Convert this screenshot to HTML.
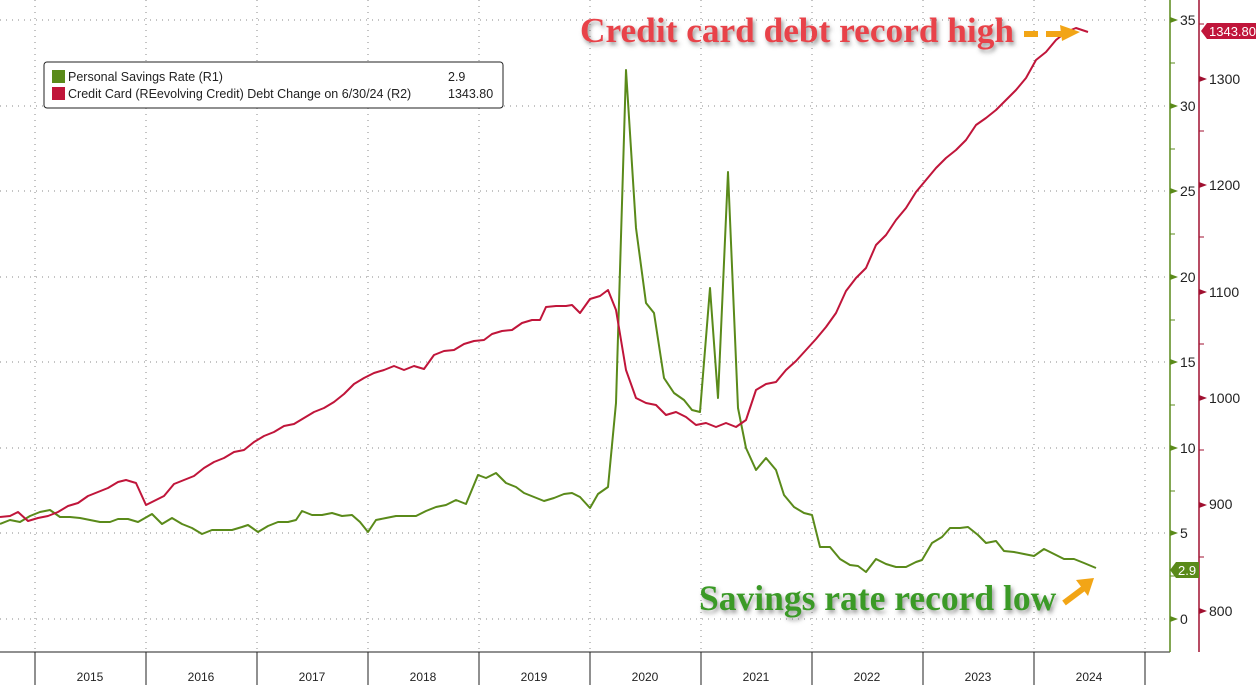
<!DOCTYPE html>
<html><head><meta charset="utf-8"><style>
html,body{margin:0;padding:0;background:#fff;}
svg{display:block;font-family:"Liberation Sans",sans-serif;}
</style></head><body>
<svg width="1256" height="685" viewBox="0 0 1256 685" xmlns="http://www.w3.org/2000/svg">
<defs>
<filter id="sh" x="-5%" y="-20%" width="110%" height="160%"><feDropShadow dx="2" dy="3" stdDeviation="2" flood-color="#555" flood-opacity="0.6"/></filter>
</defs>
<rect width="1256" height="685" fill="#fff"/>
<g stroke="#888" stroke-width="1" stroke-dasharray="1,5">
<line x1="0" x2="1170" y1="20" y2="20"/><line x1="0" x2="1170" y1="106" y2="106"/>
<line x1="0" x2="1170" y1="191" y2="191"/><line x1="0" x2="1170" y1="277" y2="277"/>
<line x1="0" x2="1170" y1="362" y2="362"/><line x1="0" x2="1170" y1="448" y2="448"/>
<line x1="0" x2="1170" y1="533" y2="533"/><line x1="0" x2="1170" y1="619" y2="619"/>
<line x1="35" x2="35" y1="0" y2="650"/><line x1="146" x2="146" y1="0" y2="650"/>
<line x1="257" x2="257" y1="0" y2="650"/><line x1="368" x2="368" y1="0" y2="650"/>
<line x1="479" x2="479" y1="0" y2="650"/><line x1="590" x2="590" y1="0" y2="650"/>
<line x1="701" x2="701" y1="0" y2="650"/><line x1="812" x2="812" y1="0" y2="650"/>
<line x1="923" x2="923" y1="0" y2="650"/><line x1="1034" x2="1034" y1="0" y2="650"/>
<line x1="1145" x2="1145" y1="0" y2="650"/>
</g>
<line x1="0" x2="1170" y1="652" y2="652" stroke="#222"/>
<g stroke="#222"><line x1="35" x2="35" y1="652" y2="685"/><line x1="146" x2="146" y1="652" y2="685"/><line x1="257" x2="257" y1="652" y2="685"/><line x1="368" x2="368" y1="652" y2="685"/><line x1="479" x2="479" y1="652" y2="685"/><line x1="590" x2="590" y1="652" y2="685"/><line x1="701" x2="701" y1="652" y2="685"/><line x1="812" x2="812" y1="652" y2="685"/><line x1="923" x2="923" y1="652" y2="685"/><line x1="1034" x2="1034" y1="652" y2="685"/><line x1="1145" x2="1145" y1="652" y2="685"/></g>
<g font-size="12" fill="#222" text-anchor="middle">
<text x="90" y="681">2015</text><text x="201" y="681">2016</text><text x="312" y="681">2017</text><text x="423" y="681">2018</text><text x="534" y="681">2019</text><text x="645" y="681">2020</text><text x="756" y="681">2021</text><text x="867" y="681">2022</text><text x="978" y="681">2023</text><text x="1089" y="681">2024</text>
</g>
<line x1="1170" x2="1170" y1="0" y2="652" stroke="#5a8a1a" stroke-width="1.5"/>
<line x1="1199" x2="1199" y1="0" y2="652" stroke="#a01030" stroke-width="1.5"/>
<g fill="#5a8a1a">
<path d="M1170,17 l8,3 l-8,3z"/><path d="M1170,103 l8,3 l-8,3z"/><path d="M1170,188 l8,3 l-8,3z"/><path d="M1170,274 l8,3 l-8,3z"/><path d="M1170,359 l8,3 l-8,3z"/><path d="M1170,445 l8,3 l-8,3z"/><path d="M1170,530 l8,3 l-8,3z"/><path d="M1170,616 l8,3 l-8,3z"/>
</g>
<g stroke="#5a8a1a"><line x1="1170" x2="1175" y1="63" y2="63"/><line x1="1170" x2="1175" y1="149" y2="149"/><line x1="1170" x2="1175" y1="234" y2="234"/><line x1="1170" x2="1175" y1="320" y2="320"/><line x1="1170" x2="1175" y1="405" y2="405"/><line x1="1170" x2="1175" y1="491" y2="491"/><line x1="1170" x2="1175" y1="576" y2="576"/></g>
<g font-size="14" fill="#222">
<text x="1180" y="25">35</text><text x="1180" y="111">30</text><text x="1180" y="196">25</text><text x="1180" y="282">20</text><text x="1180" y="367">15</text><text x="1180" y="453">10</text><text x="1180" y="538">5</text><text x="1180" y="624">0</text>
</g>
<g stroke="#a01030"><line x1="1199" x2="1204" y1="24" y2="24"/><line x1="1199" x2="1204" y1="131" y2="131"/><line x1="1199" x2="1204" y1="237" y2="237"/><line x1="1199" x2="1204" y1="344" y2="344"/><line x1="1199" x2="1204" y1="450" y2="450"/><line x1="1199" x2="1204" y1="557" y2="557"/></g>
<g fill="#a01030"><path d="M1199,76 l8,3 l-8,3z"/><path d="M1199,182 l8,3 l-8,3z"/><path d="M1199,289 l8,3 l-8,3z"/><path d="M1199,395 l8,3 l-8,3z"/><path d="M1199,502 l8,3 l-8,3z"/><path d="M1199,608 l8,3 l-8,3z"/></g>
<g font-size="14" fill="#222">
<text x="1209" y="84">1300</text><text x="1209" y="190">1200</text><text x="1209" y="297">1100</text><text x="1209" y="403">1000</text><text x="1209" y="509">900</text><text x="1209" y="616">800</text>
</g>
<path d="M1207,23 L1256,23 L1256,39 L1207,39 L1201,31Z" fill="#c0153a"/>
<text x="1209" y="36" font-size="13" fill="#fff">1343.80</text>
<path d="M1176,562 L1199,562 L1199,578 L1176,578 L1170,570Z" fill="#5a8a1a"/>
<text x="1178" y="575" font-size="13" fill="#fff">2.9</text>
<polyline fill="none" stroke="#5a8a1a" stroke-width="2" stroke-linejoin="round" points="0,524 10,520 20,522 30,516 40,512 50,510 60,517 70,517 80,518 90,520 100,522 110,522 118,519 128,519 138,522 152,514 162,524 172,518 182,524 192,528 202,534 212,530 222,530 232,530 242,527 248,525 258,532 268,526 278,522 288,522 296,520 302,511 312,515 322,515 332,513 342,516 352,515 360,522 368,532 376,520 386,518 396,516 406,516 416,516 426,511 436,507 446,505 456,500 466,504 478,475 486,478 496,473 506,483 516,487 524,493 534,497 544,501 554,498 564,494 572,493 580,497 590,508 598,494 608,487 616,403 626,70 636,228 646,303 654,313 664,378 674,393 684,400 692,410 700,412 710,288 718,398 728,172 738,408 746,448 756,470 766,458 776,470 784,495 794,507 804,513 812,515 820,547 830,547 840,559 850,565 858,566 866,572 876,559 886,564 896,567 906,567 916,562 922,560 932,543 942,537 950,528 960,528 968,527 978,535 986,543 996,541 1004,551 1014,552 1024,554 1034,556 1044,549 1054,554 1064,559 1074,559 1084,563 1096,568"/>
<polyline fill="none" stroke="#c0153a" stroke-width="2" stroke-linejoin="round" points="0,517 10,516 18,512 28,521 38,518 48,516 58,512 68,506 78,503 88,496 98,492 108,488 118,482 126,480 136,483 146,505 156,500 164,496 174,484 184,480 194,476 204,468 214,462 224,458 234,452 244,450 254,442 264,436 274,432 284,426 294,424 304,418 314,412 324,408 334,402 344,394 354,384 364,378 374,373 384,370 394,366 404,370 414,366 424,369 434,355 444,351 454,350 464,344 474,341 484,340 492,334 502,331 512,330 522,323 532,320 540,320 546,307 556,306 566,306 572,305 580,313 590,299 600,296 608,290 616,310 626,370 636,398 646,403 656,405 666,415 676,412 686,417 696,425 706,423 716,427 726,423 736,427 746,420 756,390 766,384 776,382 786,370 796,361 806,350 816,339 826,327 836,313 846,291 856,278 866,268 876,245 886,235 896,220 906,208 916,192 926,180 936,168 946,158 956,150 966,140 976,125 986,118 996,110 1006,100 1016,90 1026,78 1036,60 1046,52 1056,40 1066,32 1076,28 1088,32"/>
<rect x="44" y="62" width="459" height="46" rx="3" fill="#fff" stroke="#222" stroke-width="1"/>
<rect x="52" y="70" width="13" height="13" fill="#5a8a1a"/>
<rect x="52" y="87" width="13" height="13" fill="#c0153a"/>
<g font-size="12.5" fill="#222">
<text x="68" y="81">Personal Savings Rate (R1)</text>
<text x="68" y="98">Credit Card (REevolving Credit) Debt Change on 6/30/24 (R2)</text>
<text x="448" y="81">2.9</text>
<text x="448" y="98">1343.80</text>
</g>
<text x="580" y="42" font-family="Liberation Serif,serif" font-weight="bold" font-size="35.3" fill="#e8434a" filter="url(#sh)">Credit card debt record high</text>
<path d="M1024,34 h14 M1046,34 h16" stroke="#f2a516" stroke-width="6"/>
<path d="M1060,25 L1080,32 L1062,41Z" fill="#f2a516"/>
<text x="699" y="610" font-family="Liberation Serif,serif" font-weight="bold" font-size="35.5" fill="#3a9a28" filter="url(#sh)">Savings rate record low</text>
<path d="M1064,603 L1084,588" stroke="#f2a516" stroke-width="6"/>
<path d="M1076,580 L1094,578 L1088,596Z" fill="#f2a516"/>
</svg>
</body></html>
